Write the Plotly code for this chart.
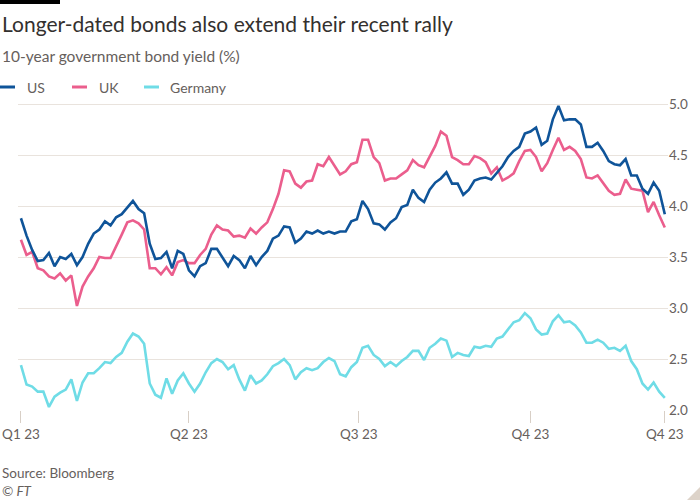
import plotly.graph_objects as go
import pandas as pd

# ---- data (10-year government bond yields, %), sampled every 3 days ----
dates = pd.date_range("2023-01-01", periods=116, freq="3D")

us = [3.88, 3.71, 3.57, 3.46, 3.47, 3.54, 3.41, 3.50, 3.48, 3.53, 3.42, 3.50, 3.63, 3.73, 3.77, 3.85, 3.81, 3.89, 3.92, 3.98,
      4.05, 3.97, 3.93, 3.63, 3.48, 3.49, 3.55, 3.39, 3.56, 3.53, 3.37, 3.31, 3.41, 3.44, 3.58, 3.58, 3.50, 3.41, 3.51,
      3.47, 3.39, 3.51, 3.42, 3.50, 3.56, 3.68, 3.71, 3.80, 3.79, 3.64, 3.68, 3.75, 3.73, 3.76, 3.73, 3.75, 3.73, 3.75, 3.75,
      3.85, 3.87, 4.05, 3.97, 3.83, 3.82, 3.77, 3.84, 3.88, 3.99, 4.01, 4.16, 4.08, 4.04, 4.16, 4.23, 4.27, 4.33, 4.22, 4.22,
      4.11, 4.16, 4.25, 4.27, 4.28, 4.26, 4.33, 4.39, 4.48, 4.54, 4.58, 4.71, 4.73, 4.77, 4.60, 4.64, 4.85, 4.98, 4.84,
      4.85, 4.85, 4.80, 4.58, 4.58, 4.62, 4.54, 4.44, 4.41, 4.40, 4.46, 4.30, 4.30, 4.17, 4.12, 4.23, 4.15, 3.92]

uk = [3.67, 3.52, 3.55, 3.39, 3.37, 3.31, 3.29, 3.34, 3.27, 3.32, 3.02, 3.21, 3.31, 3.39, 3.50, 3.49, 3.49, 3.60, 3.72, 3.84,
      3.86, 3.83, 3.77, 3.39, 3.39, 3.33, 3.40, 3.32, 3.45, 3.47, 3.44, 3.44, 3.52, 3.58, 3.72, 3.81, 3.77, 3.76, 3.70,
      3.71, 3.69, 3.78, 3.73, 3.79, 3.84, 3.97, 4.12, 4.35, 4.34, 4.22, 4.18, 4.24, 4.25, 4.41, 4.39, 4.48, 4.40, 4.31, 4.34,
      4.41, 4.43, 4.65, 4.65, 4.48, 4.42, 4.25, 4.27, 4.27, 4.31, 4.35, 4.45, 4.40, 4.38, 4.48, 4.59, 4.73, 4.69, 4.48, 4.45,
      4.41, 4.41, 4.49, 4.47, 4.43, 4.32, 4.38, 4.25, 4.28, 4.32, 4.44, 4.54, 4.55, 4.48, 4.34, 4.42, 4.55, 4.67, 4.55,
      4.58, 4.54, 4.46, 4.28, 4.27, 4.30, 4.23, 4.15, 4.11, 4.12, 4.26, 4.17, 4.16, 4.15, 3.94, 4.04, 3.91, 3.79]

germany = [2.44, 2.25, 2.23, 2.18, 2.18, 2.03, 2.13, 2.17, 2.20, 2.30, 2.09, 2.27, 2.36, 2.36, 2.41, 2.47, 2.46, 2.52, 2.56, 2.67,
           2.75, 2.72, 2.65, 2.26, 2.15, 2.12, 2.31, 2.16, 2.29, 2.36, 2.26, 2.18, 2.26, 2.37, 2.46, 2.50, 2.47, 2.40, 2.44,
           2.30, 2.19, 2.34, 2.26, 2.29, 2.35, 2.43, 2.46, 2.50, 2.44, 2.30, 2.37, 2.41, 2.39, 2.41, 2.47, 2.51, 2.48, 2.35, 2.33,
           2.42, 2.47, 2.61, 2.63, 2.54, 2.50, 2.43, 2.47, 2.43, 2.48, 2.52, 2.58, 2.58, 2.49, 2.61, 2.65, 2.70, 2.68, 2.52, 2.56,
           2.54, 2.53, 2.62, 2.61, 2.63, 2.62, 2.70, 2.72, 2.79, 2.86, 2.88, 2.95, 2.90, 2.79, 2.74, 2.75, 2.87, 2.93, 2.86,
           2.87, 2.83, 2.76, 2.66, 2.66, 2.69, 2.66, 2.60, 2.61, 2.58, 2.63, 2.48, 2.40, 2.26, 2.20, 2.27, 2.18, 2.12]

series_names = ["US", "UK", "Germany"]
series_colors = ["#0f5499", "#eb5e8d", "#6fdce6"]

x_tick_dates = ["2023-01-01", "2023-04-01", "2023-07-01", "2023-10-01", "2023-12-12"]
x_tick_labels = ["Q1 23", "Q2 23", "Q3 23", "Q4 23", "Q4 23"]
y_tick_vals = [2.0, 2.5, 3.0, 3.5, 4.0, 4.5, 5.0]

# ---- layout helpers (page pixels -> paper coords) ----
W, H = 700, 500
ML, MR, MT, MB = 18, 32, 102, 90
PW, PH = W - ML - MR, H - MT - MB


def px(x):
    return (x - ML) / PW


def py(y):
    return (H - MB - y) / PH


FONT = "Lato"
GREY = "#66605c"
GRID = "#e9e3dd"

fig = go.Figure()
values = {"US": us, "UK": uk, "Germany": germany}
for name, color in reversed(list(zip(series_names, series_colors))):
    fig.add_trace(go.Scatter(x=dates, y=values[name], mode="lines", name=name,
                             line=dict(color=color, width=2.6), showlegend=False,
                             hoverinfo="x+y+name"))

annotations = [
    dict(text="Longer-dated bonds also extend their recent rally", x=px(0), y=py(24),
         font=dict(family=FONT, size=21, color="#33302e")),
    dict(text="10-year government bond yield (%)", x=px(0), y=py(56),
         font=dict(family=FONT, size=15.5, color=GREY)),
    dict(text="Source: Bloomberg", x=px(0), y=py(473),
         font=dict(family=FONT, size=13.5, color=GREY)),
    dict(text="<i>© FT</i>", x=px(0), y=py(491),
         font=dict(family=FONT, size=13.5, color=GREY)),
]

# manual legend
legend_pos = [(0, 25), (72, 97), (144, 168)]
shapes = []
for (sx, tx), name, color in zip(legend_pos, series_names, series_colors):
    shapes.append(dict(type="line", xref="paper", yref="paper", x0=px(sx), x1=px(sx + 15),
                       y0=py(87), y1=py(87), line=dict(color=color, width=3)))
    annotations.append(dict(text=name, x=px(tx), y=py(87),
                            font=dict(family=FONT, size=14, color=GREY)))

for a in annotations:
    a.update(xref="paper", yref="paper", xanchor="left", yanchor="middle", showarrow=False)

# FT black bar top-left
shapes.append(dict(type="rect", xref="paper", yref="paper", x0=px(0), x1=px(60), y0=py(0), y1=py(4),
                   fillcolor="#000000", line=dict(width=0)))
# corner triangle
shapes.append(dict(type="path", xref="paper", yref="paper",
                   path=f"M{px(687)},{py(500)} L{px(700)},{py(487)} L{px(700)},{py(500)} Z",
                   fillcolor="#ddd3c9", line=dict(width=0)))

fig.update_layout(
    width=W, height=H,
    margin=dict(l=ML, r=MR, t=MT, b=MB, pad=0, autoexpand=False),
    paper_bgcolor="white", plot_bgcolor="white",
    font=dict(family=FONT, color=GREY, size=13.5),
    annotations=annotations, shapes=shapes,
    showlegend=False,
    xaxis=dict(type="date", range=["2022-12-30 10:00", "2023-12-13 17:00"],
               tickvals=x_tick_dates, ticktext=x_tick_labels, automargin=False,
               showgrid=False, zeroline=False, showline=False,
               ticks="outside", ticklen=12, tickcolor="#d8cfc6", tickwidth=1,
               tickfont=dict(family=FONT, size=13.5, color=GREY)),
    yaxis=dict(range=[2.0, 5.02], side="right", tickvals=y_tick_vals, automargin=False,
               tickformat=".1f", showgrid=True, gridcolor=GRID, gridwidth=1,
               zeroline=False, showline=False, ticks="",
               tickfont=dict(family=FONT, size=13.5, color=GREY)),
)

fig.write_html("out.html", config={"displayModeBar": False},
               post_script="document.body.style.margin='0';document.body.style.overflow='hidden';")
